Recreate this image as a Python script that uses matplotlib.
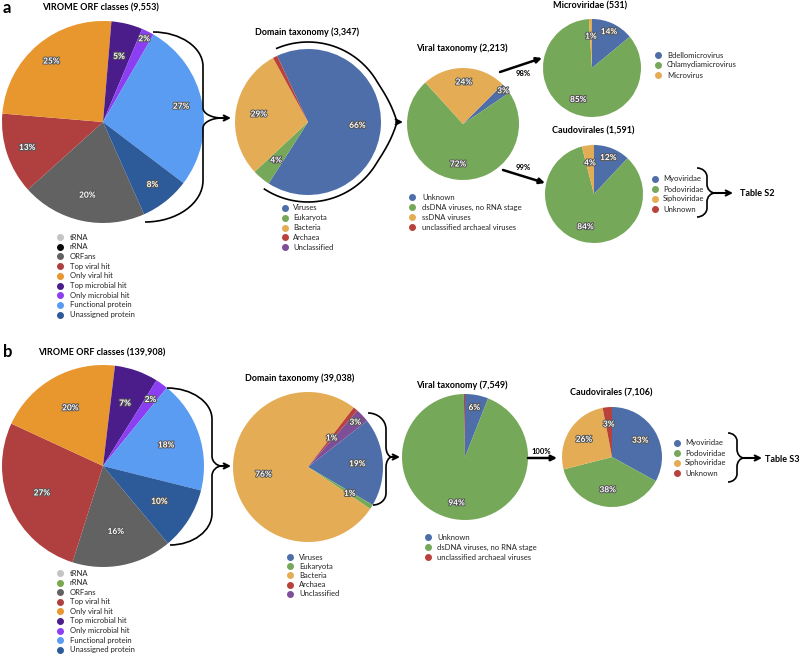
import matplotlib
matplotlib.use("Agg")
import matplotlib.pyplot as plt
import matplotlib.patheffects as pe
from matplotlib.path import Path
from matplotlib.patches import PathPatch
import numpy as np

W, H = 799, 656
plt.rcParams['font.family'] = ['Lato', 'DejaVu Sans']

## DATA (percent of each pie)
orf_labels = ["tRNA", "rRNA", "ORFans", "Top viral hit", "Only viral hit",
              "Top microbial hit", "Only microbial hit", "Functional protein",
              "Unassigned protein"]
orf_a = [0, 0, 20, 13, 25, 5, 2, 27, 8]
orf_b = [0, 0, 16, 27, 20, 7, 2, 18, 10]

domain_labels = ["Viruses", "Eukaryota", "Bacteria", "Archaea", "Unclassified"]
domain_a = [66, 4, 29, 1, 0]
domain_b = [19, 1, 76, 1, 3]

viral_labels_a = ["Unknown", "dsDNA viruses, no RNA stage", "ssDNA viruses",
                  "unclassified archaeal viruses"]
viral_a = [3, 72, 24, 0]
viral_labels_b = ["Unknown", "dsDNA viruses, no RNA stage",
                  "unclassified archaeal viruses"]
viral_b = [6, 94, 0.3]

micro_labels = ["Bdellomicrovirus", "Chlamydiamicrovirus", "Microvirus"]
micro_a = [14, 85, 1]

caudo_labels = ["Myoviridae", "Podoviridae", "Siphoviridae", "Unknown"]
caudo_a = [12, 84, 4, 0]
caudo_b = [33, 38, 26, 3]

## COLOURS
BLUE, GREEN, ORANGE, RED, PURPLE = "#4d6ea8", "#76a85a", "#e4ad55", "#b8413c", "#7e4f97"
orf_colors_a = ["#c4c4c4", "#0a0a0a", "#626262", "#b0403f", "#e8962e",
                "#4a1d8a", "#8c3ff2", "#5a9cf2", "#2d5a99"]
orf_colors_b = ["#c4c4c4", "#78a94e", "#626262", "#b0403f", "#e8962e",
                "#4a1d8a", "#8c3ff2", "#5a9cf2", "#2d5a99"]
domain_colors = [BLUE, GREEN, ORANGE, RED, PURPLE]
viral_colors_a = [BLUE, GREEN, ORANGE, RED]
viral_colors_b = [BLUE, GREEN, RED]
micro_colors = [BLUE, GREEN, ORANGE]
caudo_colors = [BLUE, GREEN, ORANGE, RED]

fig = plt.figure(figsize=(W / 100, H / 100), dpi=100)
ax = fig.add_axes([0, 0, 1, 1])

def P(x, y):
    # image pixel -> data coords (y up)
    return x, H - y

shadow = [pe.withStroke(linewidth=1.4, foreground="#555555")]

def draw_pie(vals, colors, cx, cy, r, start, dist, special={}):
    wedges, _ = ax.pie(vals, colors=colors, startangle=start, counterclock=False,
                       center=P(cx, cy), radius=r, wedgeprops=dict(linewidth=0))
    for i, (w, v) in enumerate(zip(wedges, vals)):
        if v < 1 or special.get(i, dist) is None:
            continue
        ang = np.deg2rad((w.theta1 + w.theta2) / 2)
        d = special.get(i, dist) * r
        x, y = P(cx, cy)
        ax.text(x + d * np.cos(ang), y + d * np.sin(ang), f"{v:.0f}%",
                color="white", fontsize=6, fontweight="bold", ha="center",
                va="center", path_effects=shadow)

def legend(labels, colors, mx, tx, y0, step):
    for i, (lab, c) in enumerate(zip(labels, colors)):
        ax.scatter(*P(mx, y0 + i * step), s=16, color=c, zorder=5)
        ax.text(*P(tx, y0 + i * step), lab, fontsize=5.5, va="center",
                color="#222222")

def title(x, y, s):
    ax.text(*P(x, y), s, fontsize=6.5, fontweight="bold", ha="center", va="center")

def arrow(x0, y0, x1, y1, style="-|>", lw=1.8, ms=8):
    ax.annotate("", xy=P(x1, y1), xytext=P(x0, y0),
                arrowprops=dict(arrowstyle=style, lw=lw, color="black",
                                mutation_scale=ms, shrinkA=0, shrinkB=0))

def brace(xet, yt, xeb, yb, xs, xt, ym, xa, lw=1.2):
    q1 = min(abs(xs - xet) * 0.9, (ym - yt) * 0.4)
    q2 = min(abs(xs - xeb) * 0.9, (yb - ym) * 0.4)
    h = min(10, (ym - yt) * 0.35)
    pts = [(xet, yt), (xet + 0.55 * (xs - xet), yt), (xs, yt + q1 * 0.45), (xs, yt + q1),
           (xs, ym - h),
           (xs, ym - h * 0.45), (xs + 0.45 * (xt - xs), ym), (xt, ym),
           (xs + 0.45 * (xt - xs), ym), (xs, ym + h * 0.45), (xs, ym + h),
           (xs, yb - q2),
           (xs, yb - q2 * 0.45), (xeb + 0.55 * (xs - xeb), yb), (xeb, yb)]
    codes = [Path.MOVETO, Path.CURVE4, Path.CURVE4, Path.CURVE4, Path.LINETO,
             Path.CURVE4, Path.CURVE4, Path.CURVE4, Path.CURVE4, Path.CURVE4,
             Path.CURVE4, Path.LINETO, Path.CURVE4, Path.CURVE4, Path.CURVE4]
    path = Path([P(*p) for p in pts], codes)
    ax.add_patch(PathPatch(path, fill=False, lw=lw, color="black"))
    arrow(xt - 1, ym, xa, ym, style="->", lw=lw + 0.3, ms=9)

def arc_brace(cx, cy, r, a0, a1, xa, lw=1.2):
    th = np.linspace(a0, a1, 400)
    rr = r + 7 + 9 * np.clip(1 - np.abs(th) / 30, 0, None) ** 1.5
    x0, y0 = P(cx, cy)
    ax.plot(x0 + rr * np.cos(np.deg2rad(th)), y0 + rr * np.sin(np.deg2rad(th)),
            color="black", lw=lw)
    tip = x0 + r + 16
    ax.annotate("", xy=(xa, y0), xytext=(tip - 1, y0),
                arrowprops=dict(arrowstyle="->", lw=lw + 0.3, color="black",
                                mutation_scale=9, shrinkA=0, shrinkB=0))

## PANEL a
ax.text(*P(3, 8), "a", fontsize=12, fontweight="bold", va="center")
title(100, 8, "VIROME ORF classes (9,553)")
draw_pie(orf_a, orf_colors_a, 103, 122, 101, -66, 0.79, {5: 0.67, 6: 0.92, 2: 0.74})
legend(orf_labels, orf_colors_a, 60, 70, 237, 9.7)
brace(153, 32, 145, 222, 203, 222, 118, 231)

title(307, 32, "Domain taxonomy (3,347)")
draw_pie(domain_a, domain_colors, 308, 122, 73, 115, 0.68, {3: None})
legend(domain_labels, domain_colors, 285, 293, 208, 9.8)
arc_brace(308, 122, 73, 113, -123, 403)

title(462, 48, "Viral taxonomy (2,213)")
draw_pie(viral_a, viral_colors_a, 463, 124, 56, 45, 0.72, {0: 0.93, 2: 0.75})
legend(viral_labels_a, viral_colors_a, 412, 422, 197, 10)
arrow(500, 72, 542, 58)
ax.text(*P(523, 74), "98%", fontsize=5.5, fontweight="bold", ha="center", va="center")
arrow(503, 170, 545, 183)
ax.text(*P(523, 167), "99%", fontsize=5.5, fontweight="bold", ha="center", va="center")

title(590, 6, "Microviridae (531)")
draw_pie(micro_a, micro_colors, 592, 68, 49, 90, 0.7, {0: 0.82, 2: 0.65})
legend(micro_labels, micro_colors, 658, 667, 55, 10)

title(593, 131, "Caudovirales (1,591)")
draw_pie(caudo_a, caudo_colors, 594, 194, 49, 90, 0.69, {0: 0.8, 2: 0.64})
legend(caudo_labels, caudo_colors, 655, 663, 179, 10)
brace(697, 168, 697, 217, 707, 715, 193, 733)
ax.text(*P(740, 193), "Table S2", fontsize=6.5, fontweight="bold", va="center")

## PANEL b
ax.text(*P(3, 352), "b", fontsize=12, fontweight="bold", va="center")
title(102, 353, "VIROME ORF classes (139,908)")
draw_pie(orf_b, orf_colors_b, 103, 466, 101, -50, 0.66, {6: 0.81})
legend(orf_labels, orf_colors_b, 60, 70, 573, 9.6)
brace(167, 388, 170, 545, 212, 222, 466, 231)

title(300, 378, "Domain taxonomy (39,038)")
draw_pie(domain_b, domain_colors, 308, 467, 75, 38, 0.66, {2: 0.6, 3: 0.5, 4: 0.87})
legend(domain_labels, domain_colors, 290, 299, 557, 9.2)
brace(368, 413, 373, 505, 386, 392, 457, 400)

title(462, 385, "Viral taxonomy (7,549)")
draw_pie(viral_b, viral_colors_b, 465, 457, 63, 90, 0.74, {0: 0.8})
legend(viral_labels_b, viral_colors_b, 428, 437, 537, 10)
arrow(528, 458, 557, 458)
ax.text(*P(541, 452), "100%", fontsize=5.5, fontweight="bold", ha="center", va="center")

title(611, 393, "Caudovirales (7,106)")
draw_pie(caudo_b, caudo_colors, 612, 457, 50, 90, 0.66)
legend(caudo_labels, caudo_colors, 677, 685, 443, 10)
brace(728, 433, 728, 482, 737, 744, 458, 762)
ax.text(*P(765, 459), "Table S3", fontsize=6.5, fontweight="bold", va="center")

ax.set_xlim(0, W)
ax.set_ylim(0, H)
ax.set_aspect("equal")
ax.axis("off")
fig.savefig("out.png", dpi=100)
